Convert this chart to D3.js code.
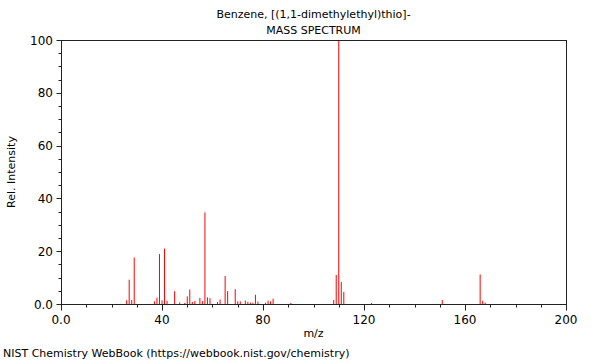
<!DOCTYPE html>
<html><head><meta charset="utf-8">
<script src="https://cdn.jsdelivr.net/npm/d3@7"></script>
<style>body{margin:0;background:#fff}svg{display:block;font-family:"DejaVu Sans",sans-serif}</style>
</head><body>
<svg id="c" width="600" height="360"></svg>
<script>
const mz = [26,27,28,29,37,38,39,40,41,42,45,47,49,50,51,52,53,55,56,57,58,59,62,63,65,66,69,70,71,73,74,75,76,77,78,81,82,83,84,91,108,109,110,111,112,123,151,166,167,168];
const intensity = [1.4,9.2,1.5,17.6,1.0,2.4,18.9,1.4,21.0,1.2,4.8,0.6,0.4,2.9,5.5,0.8,1.1,2.3,1.1,34.7,2.5,2.2,0.8,1.7,10.6,4.9,5.6,1.0,1.0,1.3,0.8,0.5,0.5,3.5,0.9,0.5,1.3,1.0,2.0,0.4,1.5,11.0,100,8.3,4.6,0.4,1.5,11.2,1.2,0.5];
const xTicks = [0,40,80,120,160,200];
const yTicks = [0,20,40,60,80,100];
const title1 = "Benzene, [(1,1-dimethylethyl)thio]-";
const title2 = "MASS SPECTRUM";

const svg = d3.select("#c");
const L = 61, R = 566, T = 40, B = 304;
const x = d3.scaleLinear().domain([0,200]).range([L,R]);
const y = d3.scaleLinear().domain([0,100]).range([B,T]);
const fs = 11;

// peaks
svg.append("g").selectAll("line").data(mz).join("line")
  .attr("x1",(d)=>x(d)).attr("x2",(d)=>x(d))
  .attr("y1",B).attr("y2",(d,i)=>y(intensity[i]))
  .attr("stroke","#ff0000").attr("stroke-width",1);

// frame
svg.append("rect").attr("x",L+0.5).attr("y",T+0.5).attr("width",R-L).attr("height",B-T)
  .attr("fill","none").attr("stroke","#222").attr("stroke-width",1);

// x axis
const xg = svg.append("g").attr("transform",`translate(0.5,${B+0.5})`);
const xMinor = d3.range(0,201,10);
xg.selectAll("line").data(xMinor).join("line")
  .attr("x1",(d)=>Math.round(x(d))).attr("x2",(d)=>Math.round(x(d)))
  .attr("y1",0).attr("y2",(d)=>xTicks.includes(d)?6:3)
  .attr("stroke","#222");
svg.append("g").selectAll("text").data(xTicks).join("text")
  .attr("x",(d)=>x(d)).attr("y",B+20).attr("text-anchor","middle")
  .attr("font-size",fs+1).attr("fill","#000")
  .text((d)=>d===0?"0.0":d);

// y axis
const yg = svg.append("g").attr("transform",`translate(${L+0.5},0.5)`);
const yMinor = d3.range(0,101,5);
yg.selectAll("line").data(yMinor).join("line")
  .attr("y1",(d)=>Math.round(y(d))).attr("y2",(d)=>Math.round(y(d)))
  .attr("x1",0).attr("x2",(d)=>yTicks.includes(d)?-5:-3)
  .attr("stroke","#222");
svg.append("g").selectAll("text").data(yTicks).join("text")
  .attr("x",L-8).attr("y",(d)=>y(d)+4.5).attr("text-anchor","end")
  .attr("font-size",fs+1).attr("fill","#000")
  .text((d)=>d===0?"0.0":d);

// titles
const cx = (L+R)/2;
svg.append("text").attr("x",cx).attr("y",18).attr("text-anchor","middle").attr("font-size",fs).text(title1);
svg.append("text").attr("x",cx).attr("y",34).attr("text-anchor","middle").attr("font-size",fs).text(title2);
svg.append("text").attr("x",cx).attr("y",337).attr("text-anchor","middle").attr("font-size",fs).text("m/z");
svg.append("text").attr("transform",`translate(15,${(T+B)/2}) rotate(-90)`).attr("text-anchor","middle").attr("font-size",fs).text("Rel. Intensity");
svg.append("text").attr("x",3).attr("y",357).attr("font-size",fs).text("NIST Chemistry WebBook (https://webbook.nist.gov/chemistry)");
</script>
</body></html>
